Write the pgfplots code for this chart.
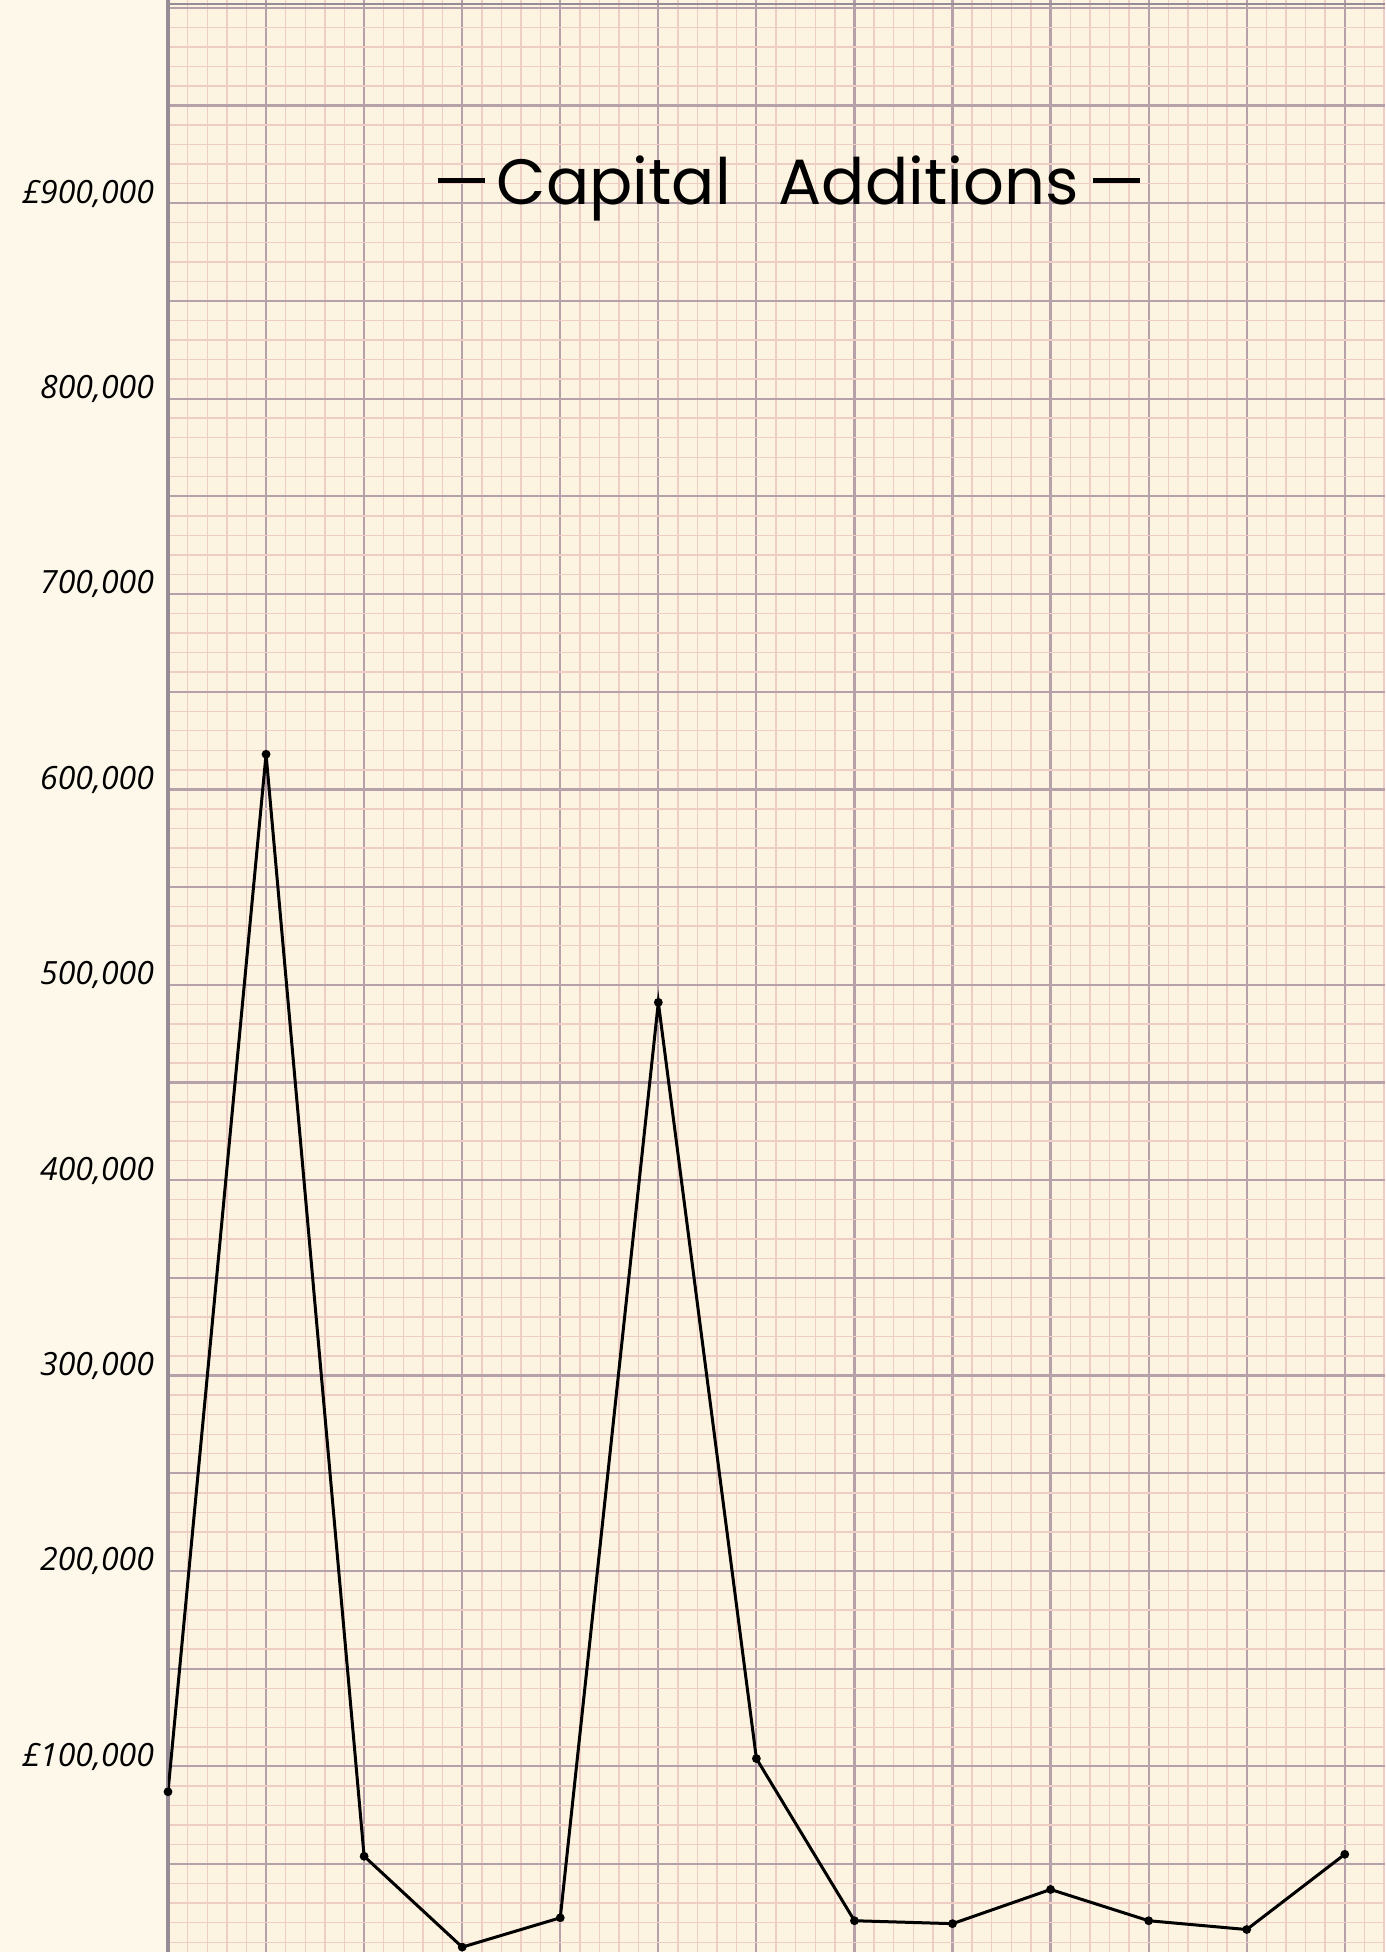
\documentclass[border=0pt]{standalone}
\usepackage{pgfplots}
\pgfplotsset{compat=1.18}
\usepackage{fontspec}
\setmainfont{Open Sans}
\newfontfamily\titlefont{Poppins}
\newfontfamily\labelfont{Open Sans}

\definecolor{paper}{RGB}{252,243,224}
\definecolor{margin}{RGB}{253,248,233}
\definecolor{minorline}{RGB}{238,205,196}
\definecolor{majorline}{RGB}{182,160,170}
\definecolor{edgeline}{RGB}{150,140,150}

\begin{document}
\begin{tikzpicture}
\useasboundingbox (0,0) rectangle (346.25pt,488pt);
\fill[margin] (0,0) rectangle (346.25pt,488pt);
\begin{axis}[
    at={(42pt,0pt)}, anchor=south west,
    scale only axis, width=304.25pt, height=488pt,
    xmin=0, xmax=12.41,
    ymin=5, ymax=1004,
    axis background/.style={fill=paper},
    axis line style={draw=none},
    xtick={0,...,12}, xticklabels={},
    minor xtick={0,0.2,...,12.4},
    ytick={50,100,...,1000},
    minor ytick={10,20,...,1000},
    yticklabels={{},{£100,000},{},{200,000},{},{300,000},{},{400,000},{},{500,000},
                 {},{600,000},{},{700,000},{},{800,000},{},{£900,000},{},{}},
    major tick length=0pt, minor tick length=0pt,
    grid=both,
    major grid style={majorline, line width=0.55pt},
    minor grid style={minorline, line width=0.35pt},
    extra x ticks={0}, extra x tick labels={},
    extra x tick style={major grid style={edgeline, line width=0.8pt}},
    extra y ticks={1002}, extra y tick labels={},
    extra y tick style={major grid style={edgeline, line width=0.6pt}},
    yticklabel style={font=\labelfont\itshape\fontsize{8}{8}\selectfont, yshift=2.4pt},
    clip mode=individual,
]
\addplot[black, line width=0.75pt, mark=*, mark size=0.7pt] coordinates {
    (0,87)(1,618)(2,54)(3,7.5)(4,22.5)(5,491)(6,104)
    (7,21)(8,19.5)(9,37)(10,21)(11,16.5)(12,55)
};
\node[anchor=base, font=\titlefont\fontsize{16}{16}\selectfont, inner sep=0pt]
    at (rel axis cs:0.51,0.895)
    {\rule[5.6pt]{11.8pt}{1.2pt}\hspace{3pt}Capital\hspace{12pt}Additions\hspace{3.5pt}\rule[5.6pt]{11.8pt}{1.2pt}};
\end{axis}
\end{tikzpicture}
\end{document}
